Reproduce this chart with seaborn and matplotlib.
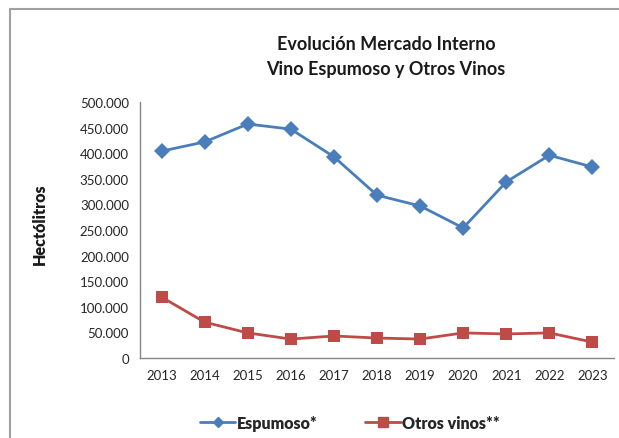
#!/usr/bin/env python3

import matplotlib
matplotlib.use('Agg')
import matplotlib.pyplot as plt  # plotting
import matplotlib.ticker as mticker
import seaborn as sns            # plotting
import pandas as pd              # data handling

# chart data
years = [2013, 2014, 2015, 2016, 2017, 2018, 2019, 2020, 2021, 2022, 2023]
espumoso = [404000, 422000, 457000, 447000, 393000, 318000, 297000, 254000, 344000, 396000, 373000]
otros_vinos = [119000, 70000, 49000, 37000, 43000, 39000, 37000, 49000, 47000, 49000, 31000]
series_names = ['Espumoso*', 'Otros vinos**']

BLUE = '#4a7ebb'
RED = '#be4b48'
GRAY = '#868686'

sns.set_style('white')
plt.rcParams['font.family'] = ['Lato', 'DejaVu Sans']

df = pd.DataFrame({
    'pos': list(range(len(years))) * 2,
    'value': espumoso + otros_vinos,
    'serie': [series_names[0]] * len(years) + [series_names[1]] * len(years),
})

fig = plt.figure(figsize=(6.19, 4.39), dpi=100)
ax = fig.add_axes([140 / 619, 80 / 439, 474 / 619, 256 / 439])

sns.lineplot(data=df, x='pos', y='value', hue='serie', style='serie',
             markers={series_names[0]: 'D', series_names[1]: 's'},
             dashes=False, palette=[BLUE, RED], linewidth=2.0,
             markersize=8, markeredgewidth=0, legend=False, ax=ax)

# y axis
ax.set_ylim(0, 500000)
ax.yaxis.set_major_locator(mticker.MultipleLocator(50000))
ax.yaxis.set_major_formatter(mticker.FuncFormatter(
    lambda v, p: f'{int(v):,}'.replace(',', '.')))
ax.set_ylabel('')

# category x axis, ticks between categories
ax.set_xlim(-0.5, len(years) - 0.5)
ax.set_xticks(range(len(years)))
ax.set_xticklabels([str(y) for y in years])
ax.set_xticks([i - 0.5 for i in range(len(years) + 1)], minor=True)
ax.tick_params(axis='x', which='major', length=0, pad=8)
ax.tick_params(axis='x', which='minor', length=5, color=GRAY, width=1, direction='out')
ax.tick_params(axis='y', length=5, color=GRAY, width=1, direction='out', pad=3)
ax.tick_params(labelsize=9.5, labelcolor='#262626')
ax.set_xlabel('')

for side in ['top', 'right']:
    ax.spines[side].set_visible(False)
for side in ['left', 'bottom']:
    ax.spines[side].set_color(GRAY)
    ax.spines[side].set_linewidth(1)

# titles
fig.text(386 / 619, 1 - 44 / 439, 'Evolución Mercado Interno', ha='center', va='center',
         fontsize=13, fontweight='bold', color='#1a1a1a')
fig.text(386 / 619, 1 - 70 / 439, 'Vino Espumoso y Otros Vinos', ha='center', va='center',
         fontsize=13, fontweight='bold', color='#1a1a1a')
fig.text(40 / 619, 1 - 224 / 439, 'Hectólitros', ha='center', va='center', rotation=90,
         fontsize=11.5, fontweight='heavy', color='#1a1a1a')

# legend
handles = [plt.Line2D([], [], color=BLUE, lw=2, marker='D', markersize=5),
           plt.Line2D([], [], color=RED, lw=2, marker='s', markersize=7)]
fig.legend(handles, series_names, loc='center', bbox_to_anchor=(350 / 619, 1 - 424 / 439),
           ncol=2, frameon=False, handlelength=2.2, handletextpad=0.1, columnspacing=3,
           prop={'size': 11.5, 'weight': 'heavy'})

# outer frame
frame = plt.Rectangle((10 / 619, -0.1), 1.2, 1 - 10 / 439 + 0.1, transform=fig.transFigure,
                      fill=False, edgecolor='#a0a0a0', linewidth=1.5)
fig.patches.append(frame)

plt.savefig('out.png', dpi=100)
